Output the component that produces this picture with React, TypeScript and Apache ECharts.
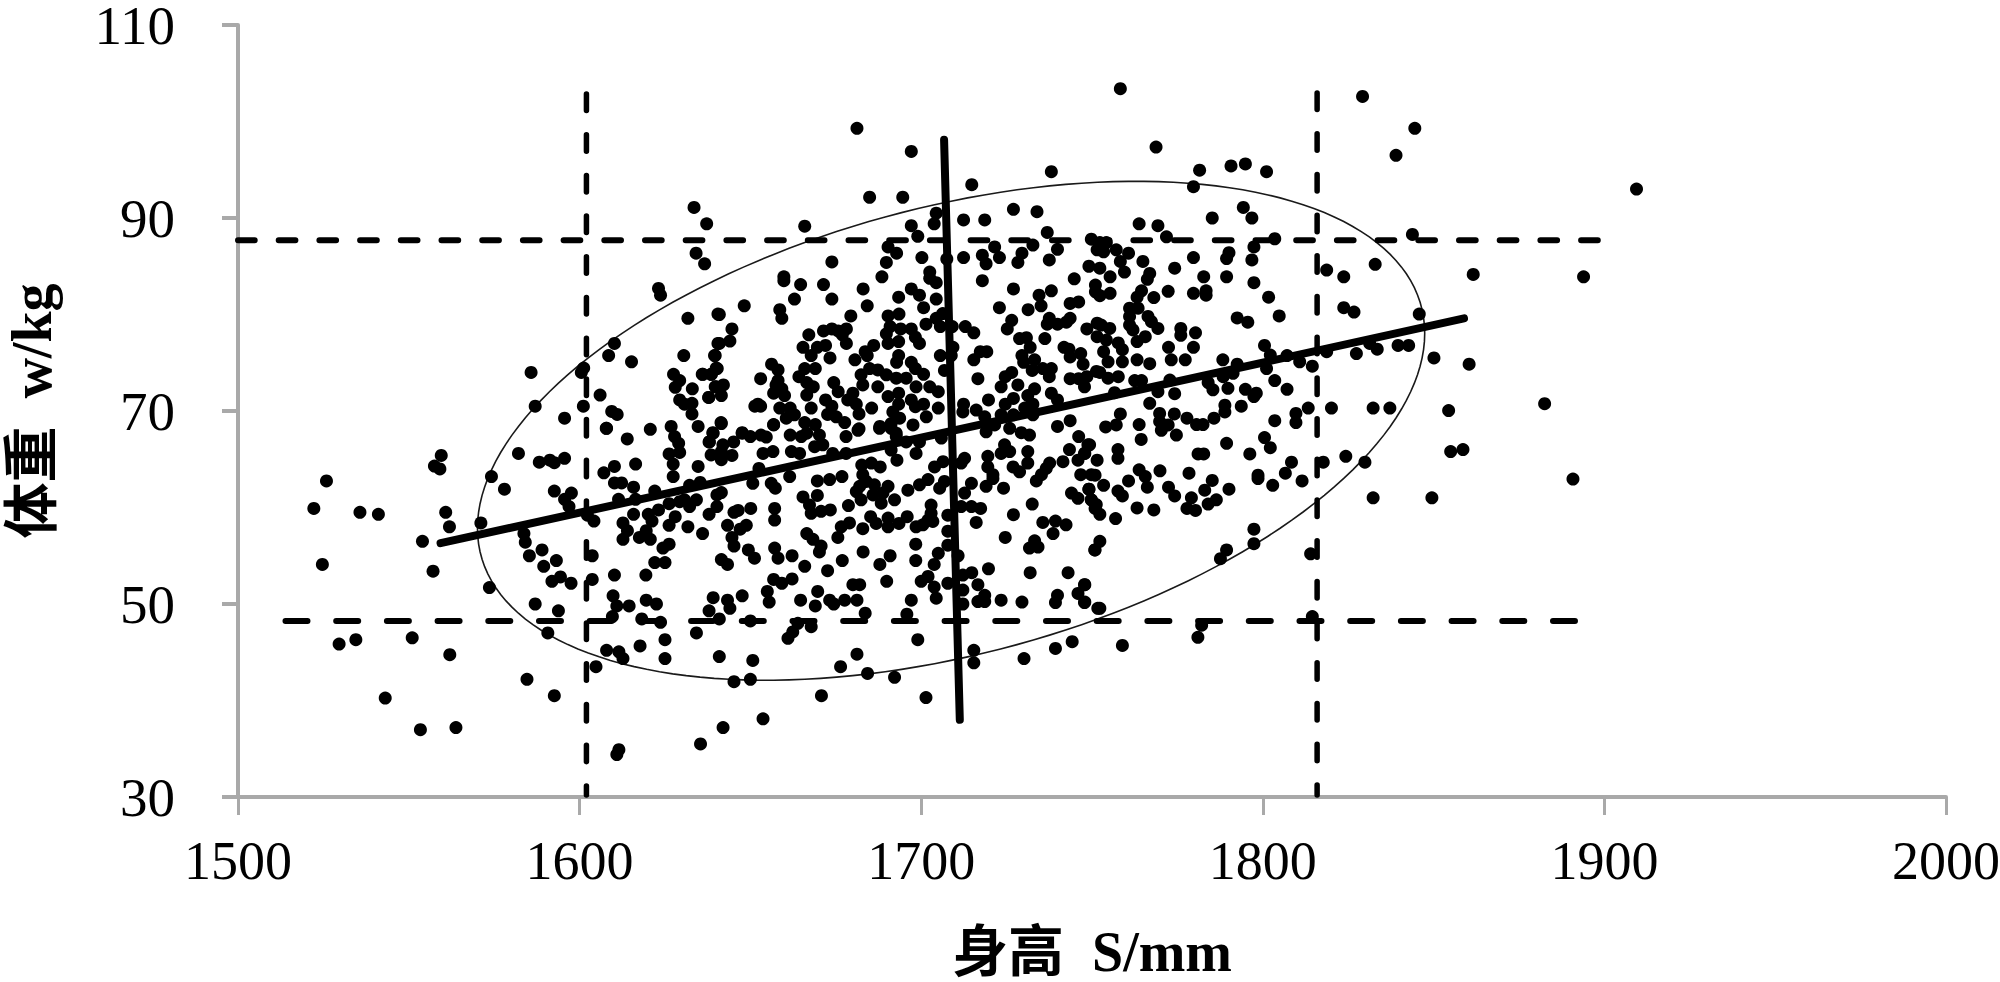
import React, { useEffect, useRef } from "react";
import * as echarts from "echarts";

const xAxisTicks = [1500, 1600, 1700, 1800, 1900, 2000];
const yAxisTicks = [30, 50, 70, 90, 110];
const xAxisName = "身高  S/mm";
const yAxisName = "体重  w/kg";

const pointsLeft = [
[1559.5,65.4],[1557.5,64.3],[1559.1,64],[1525.9,62.75],[1522.2,59.9],[1535.7,59.5],[1541.1,59.3],[1560.8,59.5],[1561.9,58],[1554,56.5],[1524.7,54.1],[1557.1,53.4],[1574.2,63.2],[1578,61.9],[1582.1,65.6],[1571.1,58.4],[1573.6,51.7],[1588.2,64.7],[1591.3,64.9],[1592.6,64.65],[1595.6,65.1],[1592.6,61.7],[1597.6,61.5],[1595.6,60.85],[1596.9,60.1],[1583.7,57.3],[1584.1,56.4],[1589,55.6],[1585.3,55],[1593.2,54.5],[1589.5,53.9],[1594.4,52.8],[1591.9,52.35],[1597.5,52.15],[1587,50],[1593.8,49.3],[1602.3,59.2],[1604.2,58.6],[1603.7,55],[1603.7,52.55],[1607.9,68.2],[1613.95,67.1],[1620.7,68.1],[1626.8,68.4],[1627.8,67.35],[1629,66.65],[1629.3,65.7],[1626.2,65.55],[1627.4,64.5],[1627.4,63.2],[1616.4,64.5],[1610.2,64.25],[1607.1,63.6],[1610.2,62.55],[1612.3,62.55],[1615.8,62.1],[1622,61.7],[1611.4,60.85],[1616.4,60.85],[1612.7,58.4],[1614,57.6],[1612.7,56.7],[1615.8,59.3],[1620.1,59.3],[1621.2,58.6],[1623.1,59.75],[1626.2,60.4],[1629.3,60.6],[1619.5,57.6],[1617.5,56.9],[1620.7,56.7],[1626.2,56.2],[1624.4,55.8],[1622,54.3],[1625,54.3],[1619.4,53],[1610.2,53],[1609.8,50.85],[1610.9,49.8],[1614.5,49.8],[1609.6,48.7],[1619.5,50.4],[1622.5,50],[1618.2,48.45],[1623.7,48.1],[1625,46.3],[1617.7,45.65],[1607.9,45.2],[1611.5,45.05],[1612.7,44.35],[1625,44.35],[1604.8,43.5],[1590.7,47],[1551,46.5],[1534.5,46.3],[1529.6,45.85],[1562,44.75],[1584.6,42.2],[1592.6,40.5],[1543.1,40.25],[1563.8,37.2],[1553.4,36.98],[1611.5,34.9],[1610.9,34.4],[1635.4,35.5],[1642,37.2],[1653.7,38.1],[1645.2,41.95],[1650,42.2],[1640.9,44.55],[1650.7,44.15],[1634.2,47],[1640.9,48.45],[1650,48.25],[1637.9,49.3],[1639.1,50.65],[1643.3,50.4],[1644,49.55],[1647.6,50.85],[1654.95,51.3],[1655.5,50.2],[1656.8,52.55],[1641.5,54.6],[1643.3,54.1],[1649.4,55.6],[1651.2,54.75],[1657.1,55.8],[1658.1,54.75],[1645.2,56],[1644.6,56.9],[1636,57.3],[1631.7,58],[1626.2,58.15],[1628,59.05],[1637.9,59.3],[1640.2,60.1],[1640.2,61.3],[1641.5,61.55],[1643.3,58.15],[1645.2,59.5],[1646.4,59.7],[1647,57.75],[1648.8,58.15],[1650.1,59.9],[1657.1,59.9],[1657.1,58.7],[1650.7,62.5],[1652.5,64.05],[1656.1,62.5],[1657.3,62],[1632.2,62.3],[1635.3,62.6],[1630.7,60.8],[1634.2,60.8],[1632.2,60.1],[1634.7,64.25],[1634.7,68.4],[1641.5,68.7],[1639.1,67.7],[1637.9,66.8],[1641.95,66.5],[1645.1,66.8],[1647.6,67.7],[1650,67.35],[1653.1,67.5],[1654.65,67.3],[1656.8,68.55],[1638.5,65.45],[1641.5,64.95],[1641.5,65.8],[1644.6,65.4],[1653.7,65.6],[1656.6,65.8],
];

const pointsUpperLeft = [
[1633.5,91.1],[1637.2,89.4],[1634.1,86.35],[1636.6,85.25],[1623.1,82.7],[1623.7,82],[1631.7,79.6],[1640.5,80.05],[1610.2,77],[1608.5,75.75],[1615.2,75.1],[1585.8,74],[1601.2,74.45],[1600.5,74],[1630.5,75.75],[1640.5,77],[1639.5,75.75],[1627.5,73.8],[1629.3,73.15],[1628,72.45],[1633,72.3],[1635.9,73.8],[1638.6,73.8],[1640,74.45],[1640,72.5],[1637.8,71.4],[1629.3,71.15],[1630.7,70.7],[1632.9,70.8],[1632.9,69.7],[1606,71.65],[1601.1,70.5],[1587,70.5],[1609.4,69.95],[1611,69.65],[1595.6,69.25],[1607.8,68.2],
];

const pointsUpperCentre = [
[1681.2,99.3],[1697.1,96.9],[1684.9,92.15],[1694.6,92.15],[1714.8,93.45],[1738.1,94.8],[1727,90.9],[1733.9,90.65],[1712.4,89.8],[1718.6,89.8],[1704.4,90.5],[1703.8,89.4],[1665.9,89.15],[1697.1,89.2],[1699,88.1],[1736.9,88.5],[1749.8,87.8],[1721.5,87],[1722.9,85.9],[1732.7,87.2],[1729.5,86.35],[1728.3,85.4],[1739.9,86.75],[1737.5,85.65],[1712.4,85.9],[1717.9,86.15],[1719,85.25],[1717.9,83.5],[1707.5,85.75],[1700.2,85.9],[1690.3,87],[1692.8,86.35],[1689.8,85.4],[1688.5,83.9],[1702.5,84.4],[1702.5,83.75],[1704.4,83.3],[1673.85,85.45],[1659.8,83.9],[1659.8,83.5],[1664.7,83.1],[1671.4,83.1],[1683,82.65],[1662.9,81.6],[1673.85,81.6],[1684.2,80.9],[1693.4,81.8],[1697.1,82.65],[1699.5,82],[1704.4,81.6],[1700.7,80.7],[1648.2,80.9],[1640.9,80],[1658.6,80.5],[1659.2,79.6],[1679.4,79.85],[1690.3,79.85],[1693.5,80.05],[1690.9,78.75],[1704.4,79.6],[1706.3,80.1],[1701.4,79],[1705.6,78.75],[1709.1,78.75],[1712.9,78.75],[1715.4,78.1],[1694,78.5],[1697.1,78.5],[1698.3,77.65],[1699.5,77],[1689.8,78],[1693.4,77.2],[1690.3,77],[1686.1,76.8],[1683.6,76.15],[1684.2,75.75],[1671.4,78.3],[1673.85,78.5],[1678.1,78.5],[1675.7,78.3],[1676.9,77.9],[1678.1,77],[1667.1,77.9],[1665.4,76.6],[1669.6,76.6],[1672,76.8],[1667.8,75.75],[1673.3,75.5],[1680.6,75.3],[1644.6,78.5],[1644,77.25],[1640.9,77],[1639.7,75.75],[1640.3,74.4],[1638.5,73.8],[1636.1,73.8],[1642.1,72.7],[1639.7,72.5],[1641.5,71.6],[1637.8,71.4],[1641.4,68.8],[1639,67.75],[1647.6,67.75],[1653,73.35],[1656.2,74.85],[1658.1,74.25],[1658.1,73.15],[1664.2,73.55],[1665.9,74.4],[1669,74.4],[1657.5,72.7],[1659.2,72.3],[1656.8,71.85],[1660,71.6],[1666.5,72.95],[1668.4,72.5],[1666.5,71.65],[1652.2,70.7],[1651.3,70.5],[1653,70.5],[1658.6,70.3],[1661.65,70.3],[1667.8,70.3],[1672,71.15],[1673.85,70.5],[1672.6,69.65],[1675.1,69.4],[1677.6,68.8],[1662.9,69.6],[1660.5,69.25],[1656.8,68.6],[1665.9,68.8],[1669,68.6],[1661.65,67.5],[1666.5,67.7],[1670.2,67.5],[1678,67.35],[1681.8,69.7],[1681.8,68.15],[1687.9,68.4],[1674.4,72.95],[1675.7,72],[1678.5,71.15],[1680,71.85],[1681,70.7],[1685.5,70.3],[1682.9,72.7],[1682.4,73.75],[1684.9,74.4],[1687.3,74.25],[1689.8,73.75],[1687.3,72.5],[1692.7,73.4],[1695.6,73.4],[1693.4,75.75],[1692.8,75.05],[1697.1,75.05],[1698.3,74.4],[1700.7,73.8],[1698.5,72.5],[1702.5,72.5],[1705,72],[1690.3,71.5],[1693.4,71.85],[1693.4,70.7],[1697.1,71.15],[1698.3,70.45],[1700.7,70.7],[1691.7,69.9],[1693.7,69.25],[1691.2,68.7],[1692.7,67.7],[1697.6,68.55],[1701.5,69.4],[1705,70.3],[1705.6,75.75],[1709.3,76.6],[1708.8,75.75],[1706.8,74.2],[1716.6,73.35],[1715.4,75.3],[1717.3,76.15],[1719.2,76.15],[1723.4,72.5],[1724.6,73.55],[1726.5,74],[1728.3,72.7],[1733.2,72.3],[1731.2,71.6],[1738.1,71.85],[1739.9,71.15],[1719.7,71.15],[1712.4,70.7],[1724.6,70.7],[1727,71.3],[1732.7,70.7],[1716.1,70.1],[1718.6,69.4],[1723.4,69.6],[1727,69.6],[1730.3,70.3],[1732.7,69.6],[1712.2,69.9],[1739.9,68.4],[1743.6,69],[1746.1,67.35],[1719,67.85],[1725.9,68.2],[1729.3,67.75],[1731.7,67.5],[1721.5,68.55],[1736.2,77.5],[1728.8,77.5],[1730.8,77.6],[1731.9,76.6],[1729.5,75.75],[1730,75.05],[1733.2,75.3],[1732.5,74.2],[1735.6,74.4],[1738.1,74.4],[1737.5,73.55],[1743.6,73.35],[1746.1,73.35],[1748.5,73.55],[1747.8,72.5],[1747.4,74.85],[1746.7,75.95],[1743.6,75.6],[1741.8,76.6],[1743.25,76.4],[1748.5,78.5],[1743.6,79.6],[1742.5,79.2],[1739.9,79],[1736.9,79],[1737.5,79.6],[1725.2,78.5],[1726.5,79.4],[1722.9,80.7],[1731.3,80.5],[1735.1,80.9],[1734.5,82],[1738.1,82.45],[1727,82.65],[1744.8,83.7],[1743.6,81.15],[1746.1,81.3],[1749.1,85],[1751,83.05],[1751,82.35],[1751.5,79.1],[1751.3,74.1],
];

const pointsLowerCentre = [
[1638,66.8],[1664.9,67.35],[1662,65.8],[1664.4,65.6],[1668.8,66.3],[1671.2,66.5],[1674.1,65.6],[1678,65.6],[1681.5,68],[1687.8,68.2],[1691.2,68.2],[1692.7,67.35],[1691.2,65.95],[1692.9,64.9],[1695.6,66.8],[1698.5,65.6],[1699.5,66.8],[1705.9,67.2],[1682.6,64.4],[1685.4,64.6],[1688,64.2],[1703.9,64.2],[1706.4,64.75],[1712.7,65.1],[1711.7,64.6],[1719.5,65.3],[1719.5,64.2],[1724.4,66.5],[1723.4,65.6],[1725.9,65.8],[1731.2,65.8],[1731.2,64.6],[1726.9,64.2],[1728.8,63.7],[1721,63.4],[1748.8,66.5],[1747.8,65.6],[1743.4,66],[1741.5,64.75],[1737.6,64.6],[1736.6,64.05],[1735.2,63.4],[1733.7,62.75],[1745.9,64.9],[1746.7,63.4],[1749.8,63.4],[1744,61.5],[1745.9,60.95],[1749.1,61.9],[1749.8,60.8],[1751.25,60.3],[1750.8,55.6],[1751.7,49.55],[1661.5,63.2],[1669.6,62.75],[1673.2,62.9],[1676.8,63.2],[1682.9,63.4],[1682,62.2],[1683.9,62.7],[1681,61.65],[1682.4,60.8],[1686.3,62.35],[1690.3,62.2],[1685.9,61.3],[1688.8,61.5],[1688.3,60.45],[1692.2,60.8],[1696.1,61.8],[1699.5,62.35],[1702,62.9],[1705.4,62],[1706.8,62.7],[1714.7,62.5],[1712.7,61.5],[1711.7,60.1],[1714.7,60.1],[1717.4,59.9],[1719,62.2],[1721,63],[1724.1,62],[1732.5,60.35],[1727,59.25],[1716.1,58.45],[1665.4,61.1],[1669.6,61.25],[1667.3,60.25],[1667.8,59.4],[1670.7,59.6],[1673.4,59.75],[1678.7,60.2],[1685.2,59.05],[1686.8,58.35],[1690.3,58.9],[1690.3,58],[1693.5,58.35],[1695.9,59.05],[1698.5,58],[1700.5,58.2],[1702.9,60.25],[1702.9,59.4],[1702,58.7],[1703.4,58.55],[1707.8,59.2],[1707.8,57.55],[1679,58.4],[1676.6,58],[1675.6,56.9],[1682.9,57.8],[1666.5,57.3],[1668.3,56.7],[1670.7,56],[1670.2,55.4],[1698.4,56.2],[1707.8,56.1],[1683,55.4],[1676.9,54.5],[1665.9,53.9],[1662.2,55],[1672.6,53.45],[1690.9,55],[1687.9,54.1],[1698.4,54.5],[1705,55.25],[1703.8,54.1],[1710.8,55],[1689.9,52.35],[1680,52],[1682,52],[1662.2,52.6],[1659.2,52.15],[1669.7,51.3],[1664.7,50.4],[1669,49.8],[1673.2,50.4],[1674.4,50],[1677.6,50.4],[1681.2,50.4],[1683.6,49.05],[1697.1,50.4],[1695.8,48.95],[1700,52.35],[1702,52.85],[1703.8,51.75],[1704.4,50.6],[1707.8,52.15],[1712.2,53],[1714.8,53.25],[1719.7,53.65],[1731.9,53.25],[1743,53.25],[1716.6,52],[1718.6,50.9],[1716.6,50.25],[1718.6,50.25],[1712.2,51.45],[1712.2,50],[1723.4,50.4],[1729.5,50.2],[1739.9,50.9],[1739.3,50.15],[1747.8,52],[1745.9,51.1],[1747.8,50.15],[1724.6,56.9],[1733.2,56.55],[1731.7,55.8],[1734.2,55.9],[1735.6,58.45],[1739.3,58.6],[1742.4,58.2],[1738.6,57.3],[1663.9,48],[1667.8,47.65],[1662.4,47.1],[1661,46.45],[1699,46.3],[1681.2,44.8],[1676.4,43.5],[1684.3,42.8],[1692.2,42.4],[1670.8,40.5],[1701.4,40.3],[1715.4,45.2],[1715.4,43.9],[1730.1,44.35],[1739.3,45.4],[1744.2,46.1],
];

const pointsUpperRight = [
[1758.3,103.4],[1829.2,102.6],[1844.5,99.3],[1839,96.5],[1768.75,97.35],[1781.5,94.95],[1790.7,95.4],[1794.9,95.6],[1801.1,94.8],[1779.7,93.25],[1794.3,91.1],[1796.8,90],[1785.2,90],[1763.8,89.4],[1769.3,89.2],[1771.8,88.05],[1803.5,87.85],[1843.8,88.3],[1797.4,87],[1790.1,86.4],[1789.4,85.8],[1796.8,85.65],[1779.7,85.9],[1752.3,87.45],[1754.2,87.45],[1751.5,86.7],[1753.4,86.5],[1757.1,86.7],[1760.7,86.35],[1764.9,85.5],[1758.3,85.5],[1752.3,84.8],[1759.5,84.4],[1755.3,83.9],[1766.9,84.25],[1766.2,83.65],[1774.2,84.8],[1782.7,83.9],[1789.4,83.9],[1797.4,83.3],[1752.3,81.95],[1755.3,82.2],[1764.5,82.45],[1772.3,82.4],[1779.7,82.2],[1783.4,82.45],[1783.4,82],[1768.1,81.75],[1763.2,81.8],[1801.7,81.8],[1761,80.65],[1763.5,80.65],[1804.8,79.85],[1823.7,80.7],[1826.7,80.25],[1818.7,84.6],[1823.7,83.9],[1832.9,85.2],[1861.6,84.15],[1845.8,80.05],[1792.5,79.65],[1795.6,79.2],[1761,79.8],[1766.4,79.8],[1761,78.9],[1767.4,79.25],[1769.3,78.55],[1762,78.4],[1765.6,77.7],[1763.2,77.2],[1752.7,78.9],[1755.2,78.55],[1751.5,77.7],[1754.2,77.35],[1757.7,77.05],[1758.9,76.35],[1753.4,76.15],[1776,78.55],[1776,77.85],[1780.3,78.1],[1779.7,76.6],[1772.4,76.6],[1773.2,75.3],[1777.3,75.3],[1763.2,75.3],[1758.9,75.1],[1754.7,75.1],[1766.9,74.9],[1752.3,74],[1754.7,73.4],[1757.7,73.55],[1762.5,73.15],[1764.5,73.15],[1788.3,75.3],[1800.5,76.8],[1802.2,75.8],[1807.1,75.75],[1792.5,74.85],[1801.1,74.4],[1810.8,75.1],[1814.5,74.65],[1818.7,76.15],[1827.4,75.95],[1831.3,77],[1833.5,76.4],[1839.6,76.8],[1842.7,76.8],[1850.1,75.5],[1860.4,74.85],[1791.3,73.9],[1788.4,73.55],[1784,72.95],[1803.5,73.15],[1807.1,72.25],[1794.9,72.25],[1798.1,71.85],[1785.4,72.2],[1774.2,71.8],[1789.8,72.35],[1772.8,73.2],[1756.6,71.9],[1769.3,72],
];

const pointsLowerRight = [
[1766.9,70.8],[1769.8,69.75],[1774.1,69.7],[1769.8,68.9],[1772.3,68.55],[1770.3,68],[1774.7,67.5],[1758.3,69.7],[1757.1,68.55],[1754,68.35],[1763.8,68.6],[1764.4,67.05],[1777.8,69.25],[1780.6,68.6],[1782.5,68.6],[1785.7,69.25],[1788.9,70.6],[1788.9,69.9],[1793.7,70.5],[1797.4,71.5],[1803.5,69],[1809.7,69.75],[1809.7,68.8],[1813.3,70.3],[1820.1,70.3],[1832.3,70.3],[1837.2,70.3],[1854.4,70.05],[1855,65.8],[1858.6,66],[1832.3,61],[1849.5,61],[1829.9,64.7],[1824.3,65.3],[1817.7,64.7],[1808.4,64.7],[1806.6,63.55],[1811.5,62.75],[1802.9,62.3],[1798.6,63.35],[1798.6,63],[1796.2,65.55],[1802.2,66.2],[1800.5,67.25],[1789.4,66.65],[1781.05,65.55],[1782.7,65.55],[1769.9,63.8],[1778.4,63.55],[1785.2,62.8],[1783,61.8],[1790.1,61.9],[1786.4,60.8],[1784,60.35],[1779.1,61],[1777.8,59.9],[1780.3,59.7],[1772.4,62.1],[1774.2,61.2],[1766.2,62.1],[1765.6,63.2],[1763.8,63.9],[1760.7,62.75],[1763.2,59.95],[1768.1,59.75],[1757.6,66],[1757.6,65.1],[1751.5,64.9],[1749.3,66.5],[1747.9,65.6],[1753.4,62.3],[1757.6,61.7],[1758.9,61.2],[1750.9,63.35],[1749.1,61.9],[1749.8,60.8],[1750.9,59.9],[1752.3,59.3],[1756.9,58.85],[1752.3,56.5],[1750.9,55.6],[1747.9,52],[1747.9,50.2],[1752.3,49.55],[1758.9,45.7],[1781,46.55],[1782.1,47.8],[1787.6,54.7],[1789.4,55.6],[1797.4,56.25],[1797.4,57.75],[1814,55.2],[1814.5,48.7],
];

const pointsFarRight = [
[1882.5,70.76],[1890.8,62.95],[1909.4,93],[1893.9,83.9],
];

const regressionLine = [[1559.3,56.3],[1858.9,79.6]];
const verticalAxisLine = [[1706.7,98.1],[1711.3,38]];
const dashLeft = [[1602,102.85],[1602,30.2]];
const dashRight = [[1815.9,102.95],[1815.9,30.2]];
const dashUpper = [[1500,87.7],[1898.3,87.7]];
const dashLower = [[1513.9,48.24],[1893.6,48.24]];

// Ellipse: centre, half extents, phase (degrees)
const ellipseCentre = [1708.75, 67.95];
const ellipseHalfExtent = [138.65, 25.85];
const ellipsePhaseDeg = 23;

const AXIS_GREY = "#a9a9a9";
const FONT = '"Liberation Serif", "Noto Sans CJK SC", serif';

function lineSeries(data: number[][], width: number, dash: any) {
  return {
    type: "line",
    data,
    showSymbol: false,
    symbol: "none",
    clip: false,
    silent: true,
    lineStyle: { color: "#000", width, type: dash, cap: "round" },
  };
}

export default function App() {
  const ref = useRef<HTMLDivElement>(null);
  useEffect(() => {
    document.body.style.margin = "0";
    const chart = echarts.init(ref.current!, undefined, { renderer: "svg" });
    chart.setOption({
      animation: false,
      backgroundColor: "#fff",
      grid: { left: 238, right: 54, top: 25, bottom: 185, outerBoundsMode: "none" },
      xAxis: {
        type: "value",
        min: 1500,
        max: 2000,
        name: xAxisName,
        nameLocation: "middle",
        nameGap: 127,
        nameTextStyle: { fontFamily: FONT, fontSize: 56, fontWeight: "bold", color: "#000" },
        axisLine: { show: true, lineStyle: { color: AXIS_GREY, width: 4 } },
        axisTick: { show: true, length: 18, customValues: xAxisTicks, lineStyle: { color: AXIS_GREY, width: 3 } },
        axisLabel: { customValues: xAxisTicks, formatter: (v: number) => String(v), fontFamily: FONT, fontSize: 54, lineHeight: 44, color: "#000", margin: 42 },
        splitLine: { show: false },
      },
      yAxis: {
        type: "value",
        min: 30,
        max: 110,
        name: yAxisName,
        nameLocation: "middle",
        nameGap: 178,
        nameTextStyle: { fontFamily: FONT, fontSize: 56, fontWeight: "bold", color: "#000" },
        axisLine: { show: true, lineStyle: { color: AXIS_GREY, width: 4 } },
        axisTick: { show: true, length: 16, customValues: yAxisTicks, lineStyle: { color: AXIS_GREY, width: 4 } },
        axisLabel: { customValues: yAxisTicks, formatter: (v: number) => String(v), fontFamily: FONT, fontSize: 55, lineHeight: 44, color: "#000", margin: 63 },
        splitLine: { show: false },
      },
      series: [
        {
          type: "custom",
          coordinateSystem: "cartesian2d",
          silent: true,
          clip: false,
          data: [ellipseCentre],
          renderItem: (_p: any, api: any) => {
            const pts: number[][] = [];
            const phase = (ellipsePhaseDeg * Math.PI) / 180;
            for (let i = 0; i <= 180; i++) {
              const t = (i / 180) * Math.PI * 2;
              pts.push(
                api.coord([
                  ellipseCentre[0] + ellipseHalfExtent[0] * Math.cos(t),
                  ellipseCentre[1] + ellipseHalfExtent[1] * Math.sin(t + phase),
                ])
              );
            }
            return {
              type: "polyline",
              shape: { points: pts },
              style: { stroke: "#1a1a1a", lineWidth: 1.6, fill: "none" },
            };
          },
        },
        lineSeries(dashLeft, 5.5, [16.5, 24.2]),
        lineSeries(dashRight, 5.5, [16.5, 24.2]),
        lineSeries(dashUpper, 6, [16.7, 24]),
        lineSeries(dashLower, 6, [22, 28.7]),
        {
          type: "scatter",
          silent: true,
          symbol: "circle",
          symbolSize: 13,
          itemStyle: { color: "#000", opacity: 1 },
          data: [
            ...pointsLeft,
            ...pointsUpperLeft,
            ...pointsUpperCentre,
            ...pointsLowerCentre,
            ...pointsUpperRight,
            ...pointsLowerRight,
            ...pointsFarRight,
          ],
        },
        lineSeries(regressionLine, 8, "solid"),
        lineSeries(verticalAxisLine, 8, "solid"),
      ],
    });
    return () => chart.dispose();
  }, []);
  return <div ref={ref} style={{ position: "fixed", left: 0, top: 0, width: 2000, height: 982 }} />;
}
